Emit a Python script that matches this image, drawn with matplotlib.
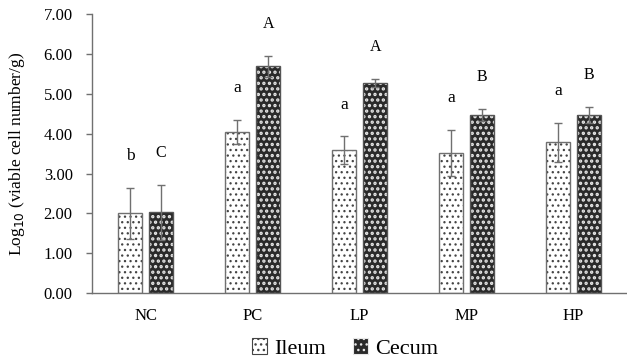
import numpy as np
import matplotlib
matplotlib.use("Agg")
from matplotlib import pyplot as plt
from matplotlib.patches import Patch

groups = ["NC", "PC", "LP", "MP", "HP"]
ileum = [2.00, 4.04, 3.58, 3.51, 3.78]
ileum_err = [0.63, 0.31, 0.35, 0.58, 0.50]
cecum = [2.03, 5.69, 5.28, 4.46, 4.46]
cecum_err = [0.69, 0.26, 0.10, 0.15, 0.20]
ileum_letters = ["b", "a", "a", "a", "a"]
cecum_letters = ["C", "A", "A", "B", "B"]

plt.rcParams['font.family'] = ['Liberation Serif', 'DejaVu Serif']

fig = plt.figure(figsize=(6.27, 3.61), dpi=100)
ax = fig.add_axes([0.147, 0.188, 0.853, 0.773])

x = np.arange(len(groups))
w = 0.23
off = 0.145
grey = '#707070'

# ileum: white with small dark dots
with plt.rc_context({'hatch.linewidth': 0.9}):
    ax.bar(x - off, ileum, w, facecolor='white', edgecolor='#444444', hatch='...', linewidth=0, zorder=2)
    h_il = Patch(facecolor='white', edgecolor='#444444', hatch='...', linewidth=0.8)
ax.bar(x - off, ileum, w, fill=False, edgecolor=grey, linewidth=1.0, zorder=3)
# cecum: dark with light dashes
with plt.rc_context({'hatch.linewidth': 1.6}):
    ax.bar(x + off, cecum, w, facecolor='#2a2a2a', edgecolor='#e8e8e8', hatch='...', linewidth=0, zorder=2)
    h_ce = Patch(facecolor='#2a2a2a', edgecolor='#e8e8e8', hatch='...', linewidth=0.8)
ax.bar(x + off, cecum, w, fill=False, edgecolor='#555555', linewidth=1.0, zorder=3)

ax.errorbar(x - off, ileum, yerr=ileum_err, fmt='none', ecolor=grey, elinewidth=1.0, capsize=3, capthick=1.0, zorder=4)
ax.errorbar(x + off, cecum, yerr=cecum_err, fmt='none', ecolor=grey, elinewidth=1.0, capsize=3, capthick=1.0, zorder=4)

pad = 0.8
for i in range(len(groups)):
    ax.text(x[i] - off, ileum[i] + ileum_err[i] + pad, ileum_letters[i], ha='center', va='center', fontsize=12.5)
    ax.text(x[i] + off, cecum[i] + cecum_err[i] + pad, cecum_letters[i], ha='center', va='center', fontsize=11.5)

ax.set_xlim(-0.5, len(groups) - 0.5)
ax.set_ylim(0, 7)
ax.set_yticks(np.arange(0, 7.01, 1))
ax.set_yticklabels(["%.2f" % v for v in np.arange(0, 7.01, 1)], fontsize=12)
ax.set_xticks(x)
ax.set_xticklabels(groups, fontsize=12)
ax.tick_params(axis='x', length=0, pad=11)
ax.tick_params(axis='y', length=4, color=grey, width=1.0, pad=10)
for s in ['top', 'right']:
    ax.spines[s].set_visible(False)
for s in ['left', 'bottom']:
    ax.spines[s].set_color(grey)
    ax.spines[s].set_linewidth(1.0)
ax.set_ylabel(r'Log$_{10}$ (viable cell number/g)', fontsize=12.5, labelpad=12)

fig.legend([h_il, h_ce], ['Ileum', 'Cecum'], loc='lower center', bbox_to_anchor=(0.55, -0.05), ncol=2,
           frameon=False, fontsize=16, handlelength=0.7, handleheight=0.7, handletextpad=0.3, columnspacing=1.2)

fig.savefig('out.png', dpi=100)
